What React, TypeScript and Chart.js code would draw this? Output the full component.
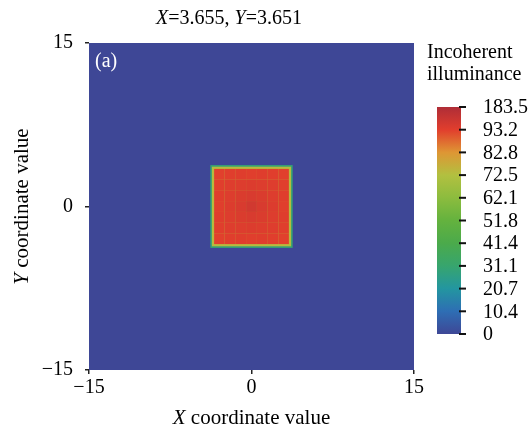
import { useEffect, useRef } from 'react';
import { Chart, registerables } from 'chart.js';

Chart.register(...registerables);

// ---- data ----
const titleParts = [
  { t: 'X', i: true },
  { t: '=3.655, ', i: false },
  { t: 'Y', i: true },
  { t: '=3.651', i: false },
];
const xTitleParts = [
  { t: 'X', i: true },
  { t: ' coordinate value', i: false },
];
const yTitleParts = [
  { t: 'Y', i: true },
  { t: ' coordinate value', i: false },
];
const panelLabel = '(a)';
const colorbarTitle = ['Incoherent', 'illuminance'];
const axisTicks = [-15, 0, 15];
const axisMin = -15;
const axisMax = 15;

// colour bar: labels (bottom -> top), their values and the colours at those stops
const cbTickLabels = ['0', '10.4', '20.7', '31.1', '41.4', '51.8', '62.1', '72.5', '82.8', '93.2', '183.5'];
const cbTickValues = [0, 10.4, 20.7, 31.1, 41.4, 51.8, 62.1, 72.5, 82.8, 93.2, 183.5];
const cbColors = [
  [62, 71, 150],
  [46, 110, 180],
  [35, 150, 160],
  [55, 165, 110],
  [75, 170, 75],
  [100, 178, 62],
  [140, 188, 62],
  [178, 192, 64],
  [222, 150, 52],
  [225, 62, 45],
  [175, 45, 55],
];

// illuminated square (half widths from the title) and its rim
const squareHalfX = 3.655;
const squareHalfY = 3.651;
const backgroundValue = 0;
const outerRimHalf = 3.8;
const outerRimValue = 30;
const squareRimValue = 74;
// interior grid of the square (cell edges, and values, top row first)
const interiorEdgesX = [-3.45, -2.5, -1.5, -0.5, 0.5, 1.5, 2.5, 3.45];
const interiorEdgesY = [3.45, 2.5, 1.5, 0.5, -0.5, -1.5, -2.5, -3.45];
const interiorValues = [
  [93, 95, 96, 95, 96, 95, 93],
  [95, 98, 101, 103, 101, 98, 95],
  [96, 101, 106, 110, 106, 101, 96],
  [95, 103, 110, 122, 110, 103, 95],
  [96, 101, 106, 110, 106, 101, 96],
  [95, 98, 101, 103, 101, 98, 95],
  [93, 95, 96, 95, 96, 95, 93],
];

const FONT = '"Liberation Serif", "Times New Roman", serif';

function colorFor(v: number): string {
  let i = 0;
  while (i < cbTickValues.length - 2 && v > cbTickValues[i + 1]) i++;
  const a = cbTickValues[i];
  const b = cbTickValues[i + 1];
  let f = (v - a) / (b - a);
  f = Math.max(0, Math.min(1, f));
  const c0 = cbColors[i];
  const c1 = cbColors[i + 1];
  const c = c0.map((c, k) => Math.round(c + (c1[k] - c) * f));
  return `rgb(${c[0]},${c[1]},${c[2]})`;
}

function drawParts(ctx: CanvasRenderingContext2D, parts: { t: string; i: boolean }[], x: number, y: number, size: number) {
  let total = 0;
  const widths = parts.map((p) => {
    ctx.font = `${p.i ? 'italic ' : ''}${size}px ${FONT}`;
    const w = ctx.measureText(p.t).width;
    total += w;
    return w;
  });
  let cx = x - total / 2;
  ctx.textAlign = 'left';
  ctx.textBaseline = 'middle';
  parts.forEach((p, k) => {
    ctx.font = `${p.i ? 'italic ' : ''}${size}px ${FONT}`;
    ctx.fillText(p.t, cx, y);
    cx += widths[k];
  });
}

const heatmapPlugin = {
  id: 'heatmap',
  beforeDatasetsDraw(chart: any) {
    const { ctx, chartArea, scales } = chart;
    const xs = scales.x;
    const ys = scales.y;
    const rect = (x0: number, x1: number, y0: number, y1: number, v: number) => {
      const px0 = xs.getPixelForValue(x0);
      const px1 = xs.getPixelForValue(x1);
      const py0 = ys.getPixelForValue(y0);
      const py1 = ys.getPixelForValue(y1);
      ctx.fillStyle = colorFor(v);
      ctx.fillRect(Math.min(px0, px1), Math.min(py0, py1), Math.abs(px1 - px0), Math.abs(py1 - py0));
    };
    ctx.save();
    ctx.beginPath();
    ctx.rect(chartArea.left, chartArea.top, chartArea.right - chartArea.left, chartArea.bottom - chartArea.top);
    ctx.clip();
    rect(axisMin, axisMax, axisMin, axisMax, backgroundValue);
    rect(-outerRimHalf, outerRimHalf, -outerRimHalf, outerRimHalf, outerRimValue);
    rect(-squareHalfX, squareHalfX, -squareHalfY, squareHalfY, squareRimValue);
    for (let r = 0; r < interiorValues.length; r++) {
      for (let c = 0; c < interiorValues[r].length; c++) {
        rect(interiorEdgesX[c], interiorEdgesX[c + 1], interiorEdgesY[r], interiorEdgesY[r + 1], interiorValues[r][c]);
      }
    }
    ctx.restore();
  },
  afterDraw(chart: any) {
    const { ctx, chartArea } = chart;
    ctx.save();
    ctx.fillStyle = '#000';
    // title
    drawParts(ctx, titleParts, 229, 19, 20);
    // x title
    drawParts(ctx, xTitleParts, (chartArea.left + chartArea.right) / 2, 418, 21);
    // y title
    ctx.save();
    ctx.translate(22, (chartArea.top + chartArea.bottom) / 2);
    ctx.rotate(-Math.PI / 2);
    drawParts(ctx, yTitleParts, 0, 0, 21);
    ctx.restore();
    // panel label
    ctx.fillStyle = '#fff';
    ctx.font = `20px ${FONT}`;
    ctx.textAlign = 'left';
    ctx.textBaseline = 'middle';
    ctx.fillText(panelLabel, chartArea.left + 6, chartArea.top + 19);

    // colour bar
    const cbLeft = 437;
    const cbRight = 461;
    const cbTop = 107;
    const cbBottom = 334;
    const n = cbTickValues.length;
    const grad = ctx.createLinearGradient(0, cbBottom, 0, cbTop);
    cbColors.forEach((c, k) => grad.addColorStop(k / (n - 1), `rgb(${c[0]},${c[1]},${c[2]})`));
    ctx.fillStyle = grad;
    ctx.fillRect(cbLeft, cbTop, cbRight - cbLeft, cbBottom - cbTop);
    ctx.fillStyle = '#000';
    ctx.font = `20px ${FONT}`;
    ctx.textAlign = 'left';
    ctx.textBaseline = 'middle';
    ctx.strokeStyle = '#111';
    ctx.lineWidth = 2;
    cbTickLabels.forEach((lab, k) => {
      const y = cbBottom - (k * (cbBottom - cbTop)) / (n - 1);
      ctx.beginPath();
      ctx.moveTo(cbRight - 2, y);
      ctx.lineTo(cbRight + 5, y);
      ctx.stroke();
      ctx.fillText(lab, 483, y + 1);
    });
    ctx.fillText(colorbarTitle[0], 427, 53);
    ctx.fillText(colorbarTitle[1], 427, 75);
    ctx.restore();
  },
};

export default function App() {
  const ref = useRef<HTMLCanvasElement | null>(null);
  useEffect(() => {
    if (!ref.current) return;
    const fmt = (v: number) => (v < 0 ? '\u2212' + Math.abs(v) : String(v));
    const tickFont = { family: FONT, size: 20 };
    const chart = new Chart(ref.current, {
      type: 'scatter',
      data: { datasets: [{ data: [], pointRadius: 0 }] },
      options: {
        animation: false,
        responsive: false,
        layout: { padding: { left: 42, right: 117, top: 43, bottom: 0 } },
        plugins: { legend: { display: false }, tooltip: { enabled: false }, title: { display: false } },
        scales: {
          x: {
            type: 'linear',
            min: axisMin,
            max: axisMax,
            afterBuildTicks: (s: any) => {
              s.ticks = axisTicks.map((v) => ({ value: v }));
            },
            afterFit: (s: any) => {
              s.height = 62;
            },
            ticks: { font: tickFont, color: '#000', padding: 2, callback: (v: any) => fmt(Number(v)), maxRotation: 0 },
            grid: { drawOnChartArea: false, tickLength: 4, color: '#222', lineWidth: 1.5 },
            border: { display: false },
          },
          y: {
            type: 'linear',
            min: axisMin,
            max: axisMax,
            afterBuildTicks: (s: any) => {
              s.ticks = axisTicks.map((v) => ({ value: v }));
            },
            afterFit: (s: any) => {
              s.width = 47;
            },
            ticks: { font: tickFont, color: '#000', padding: 12, callback: (v: any) => fmt(Number(v)) },
            grid: { drawOnChartArea: false, tickLength: 4, color: '#222', lineWidth: 1.5 },
            border: { display: false },
          },
        },
      },
      plugins: [heatmapPlugin],
    });
    return () => chart.destroy();
  }, []);
  return (
    <div style={{ position: 'absolute', left: 0, top: 0, width: 531, height: 432, background: '#fff' }}>
      <canvas ref={ref} width={531} height={432} />
    </div>
  );
}
